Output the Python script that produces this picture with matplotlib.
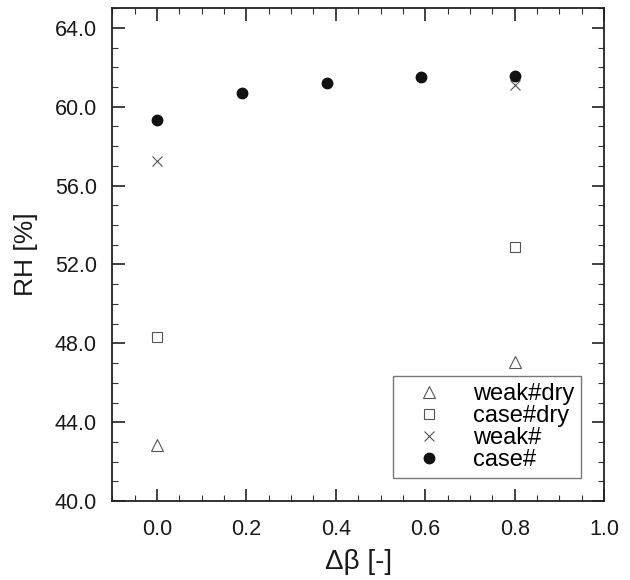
import matplotlib
matplotlib.use('Agg')
import matplotlib.pyplot as plt
from matplotlib.ticker import MultipleLocator, FormatStrFormatter

plt.rcParams['font.family'] = ['Liberation Sans', 'DejaVu Sans']

# data
x_weak_dry = [0.0, 0.8]
rh_weak_dry = [42.84, 47.05]
x_case_dry = [0.0, 0.8]
rh_case_dry = [48.34, 52.9]
x_weak = [0.0, 0.8]
rh_weak = [57.25, 61.1]
x_case = [0.0, 0.19, 0.38, 0.59, 0.8]
rh_case = [59.33, 60.72, 61.2, 61.5, 61.55]

fig = plt.figure(figsize=(6.3, 5.8), dpi=100)
ax = fig.add_axes([0.178, 0.136, 0.781, 0.850])

gray = '#555555'
ax.plot(x_weak_dry, rh_weak_dry, ls='none', marker='^', ms=8, mfc='none', mec=gray, mew=0.8, label='weak#dry')
ax.plot(x_case_dry, rh_case_dry, ls='none', marker='s', ms=7.5, mfc='none', mec=gray, mew=0.8, label='case#dry')
ax.plot(x_weak, rh_weak, ls='none', marker='x', ms=7.5, mec=gray, mew=0.8, label='weak#')
ax.plot(x_case, rh_case, ls='none', marker='o', ms=7.5, mfc='#111111', mec='#111111', label='case#')

ax.set_xlim(-0.1, 1.0)
ax.set_ylim(40.0, 65.0)
ax.xaxis.set_major_locator(MultipleLocator(0.2))
ax.xaxis.set_minor_locator(MultipleLocator(0.05))
ax.yaxis.set_major_locator(MultipleLocator(4.0))
ax.yaxis.set_minor_locator(MultipleLocator(1.0))
ax.xaxis.set_major_formatter(FormatStrFormatter('%.1f'))
ax.yaxis.set_major_formatter(FormatStrFormatter('%.1f'))

ax.tick_params(which='both', direction='in', top=True, right=True, colors='#333333', labelcolor='#1a1a1a', labelsize=15.5)
ax.tick_params(which='major', length=9, width=1.3)
ax.tick_params(axis='y', which='major', pad=11)
ax.tick_params(axis='x', which='major', pad=13)
ax.tick_params(which='minor', length=4.5, width=0.8)
for s in ax.spines.values():
    s.set_linewidth(1.3)
    s.set_color('#222222')

ax.set_xlabel('Δβ [-]', fontsize=20, color='#1a1a1a', labelpad=6)
ax.set_ylabel('RH [%]', fontsize=19, color='#1a1a1a', labelpad=12)

leg = ax.legend(loc='lower right', bbox_to_anchor=(0.953, 0.047), borderaxespad=0,
                fontsize=17, fancybox=False, edgecolor='#777777', framealpha=1,
                handletextpad=0.65, labelspacing=0.0, borderpad=0.3, handlelength=2.4)
leg.get_frame().set_linewidth(1.0)

fig.savefig('out.png', dpi=100)
